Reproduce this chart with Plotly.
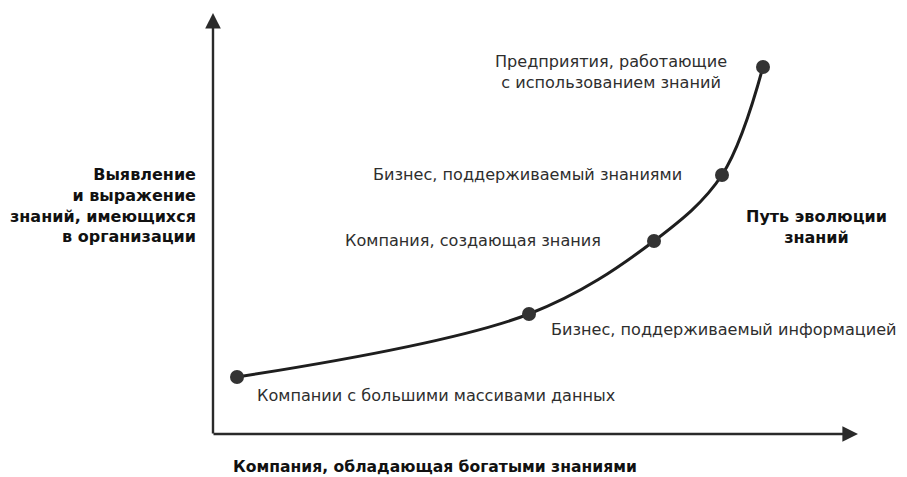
import plotly.graph_objects as go

# Stage points along the knowledge evolution path (x to the right, y upward)
stage_x = [237, 529, 654, 722, 763]
stage_y = [100, 163, 236, 302, 410]
stage_labels = [
    "Компании с большими массивами данных",
    "Бизнес, поддерживаемый информацией",
    "Компания, создающая знания",
    "Бизнес, поддерживаемый знаниями",
    "Предприятия, работающие<br>с использованием знаний",
]
label_x = [436, 724, 473, 527, 611]
label_y = [82, 148, 237, 303, 405]

y_axis_title = "Выявление<br>и выражение<br>знаний, имеющихся<br>в организации"
x_axis_title = "Компания, обладающая богатыми знаниями"
path_title = "Путь эволюции<br>знаний"

W, H = 907, 477
OFF = 8  # page body offset
ox, oy = 213, 43
x_end, y_end = 858, 464

fig = go.Figure()
fig.add_trace(go.Scatter(
    x=stage_x, y=stage_y, mode="lines+markers",
    line=dict(color="#1e1e1e", width=3, shape="spline", smoothing=1.0),
    marker=dict(size=14, color="#333333"),
    hoverinfo="skip", showlegend=False,
))

# axes with arrows
fig.add_annotation(x=x_end, y=oy, ax=ox - 1, ay=oy, xref="x", yref="y", axref="x", ayref="y",
                   showarrow=True, arrowhead=2, arrowsize=1.3, arrowwidth=2.4, arrowcolor="#2a2a2a", text="")
fig.add_annotation(x=ox, y=y_end, ax=ox, ay=oy - 1, xref="x", yref="y", axref="x", ayref="y",
                   showarrow=True, arrowhead=2, arrowsize=1.3, arrowwidth=2.4, arrowcolor="#2a2a2a", text="")

font_reg = dict(family="DejaVu Sans, sans-serif", size=16.1, color="#2e2e2e")
font_bold = dict(family="DejaVu Sans, sans-serif", size=16, color="#111111")

for t, lx, ly in zip(stage_labels, label_x, label_y):
    fig.add_annotation(x=lx, y=ly, text=t, showarrow=False, font=font_reg, align="center",
                       xanchor="center", yanchor="middle")

fig.add_annotation(x=198, y=272, text="<b>" + y_axis_title + "</b>", showarrow=False,
                   font=font_bold, align="right", xanchor="right", yanchor="middle")
fig.add_annotation(x=435, y=10, text="<b>" + x_axis_title + "</b>", showarrow=False,
                   font=dict(family="DejaVu Sans, sans-serif", size=15.6, color="#111111"),
                   align="center", xanchor="center", yanchor="middle")
fig.add_annotation(x=816, y=250, text="<b>" + path_title + "</b>", showarrow=False,
                   font=font_bold, align="center", xanchor="center", yanchor="middle")

fig.update_layout(
    width=W - OFF, height=H - OFF, margin=dict(l=0, r=0, t=0, b=0),
    paper_bgcolor="white", plot_bgcolor="white",
    xaxis=dict(range=[OFF, W], visible=False, fixedrange=True),
    yaxis=dict(range=[0, H - OFF], visible=False, fixedrange=True),
)
fig.write_html("out.html")
